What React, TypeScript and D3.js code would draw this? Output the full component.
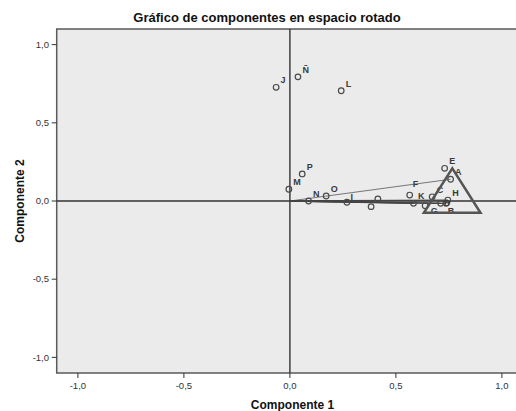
import React from "react";
import * as d3 from "d3";

// rotated component loadings (Componente 1, Componente 2)
const labels = ["J", "Ñ", "L", "M", "P", "N", "O", "I", "", "", "F", "K", "G", "C", "D", "B", "H", "E", "A"];
const comp1 = [-0.065, 0.038, 0.242, -0.005, 0.058, 0.088, 0.171, 0.269, 0.383, 0.415, 0.565, 0.583, 0.638, 0.671, 0.711, 0.737, 0.745, 0.73, 0.758];
const comp2 = [0.727, 0.794, 0.705, 0.075, 0.173, 0.0, 0.032, -0.008, -0.036, 0.013, 0.038, -0.015, -0.03, 0.027, -0.015, -0.015, 0.006, 0.209, 0.139];

// vectors drawn from the origin
const vectorsThin = ["A"];
const vectorsDark = ["K", "D", "B", "H"];

// triangle annotation (data coords)
const triX = [0.766, 0.632, 0.899];
const triY = [0.209, -0.075, -0.075];

const ticks = [-1, -0.5, 0, 0.5, 1];

// label offsets that differ from the default
const labelShift: Record<string, [number, number]> = {
  G: [5.5, 8.5],
  B: [1.5, 10.5],
  F: [3, -8.5],
  D: [3, 3],
  I: [3.5, -2.5],
};

const fmt = (v: number) => d3.format(".1f")(v).replace(".", ",").replace("−", "-");

export default function App() {
  const W = 516;
  const H = 411;
  const left = 56.7;
  const top = 29;
  const bottom = 373;
  const x = d3.scaleLinear().domain([-1.1, 1.1]).range([left, left + 2.2 * 212]);
  const y = d3.scaleLinear().domain([-1.1, 1.1]).range([bottom, top]);
  const right = x(1.1);

  const pts = labels.map((l, i) => ({ l, x: comp1[i], y: comp2[i] }));
  const find = (l: string) => pts.find((p) => p.l === l)!;
  const tri = d3.line<number>()((triX.map((v, i) => [x(v), y(triY[i])]) as any)) + "Z";

  return (
    <svg width={W} height={H} style={{ position: "absolute", left: 0, top: 0, fontFamily: "'Liberation Sans', Arial, sans-serif" }}>
      <rect width={W} height={H} fill="#fff" />
      <text x={267} y={22} textAnchor="middle" fontSize={13} fontWeight="bold" fill="#111">
        Gráfico de componentes en espacio rotado
      </text>
      <rect x={left} y={top} width={right - left} height={bottom - top} fill="#ebebeb" stroke="#5a5a5a" strokeWidth={1.5} />
      {/* reference axes */}
      <line x1={left} x2={right} y1={y(0)} y2={y(0)} stroke="#333" strokeWidth={1.4} />
      <line x1={x(0)} x2={x(0)} y1={top} y2={bottom} stroke="#333" strokeWidth={1.4} />
      {/* ticks */}
      {ticks.map((t) => (
        <g key={"x" + t}>
          <line x1={x(t)} x2={x(t)} y1={bottom} y2={bottom + 5} stroke="#333" strokeWidth={1} />
          <text x={x(t)} y={389} textAnchor="middle" fontSize={9.5} fill="#333">
            {fmt(t)}
          </text>
        </g>
      ))}
      {ticks.map((t) => (
        <g key={"y" + t}>
          <line x1={left - 5} x2={left} y1={y(t)} y2={y(t)} stroke="#333" strokeWidth={1} />
          <text x={49} y={y(t) + 3.3} textAnchor="end" fontSize={9.5} fill="#333">
            {fmt(t)}
          </text>
        </g>
      ))}
      <text x={292.5} y={409} textAnchor="middle" fontSize={12} fontWeight="bold" fill="#111">
        Componente 1
      </text>
      <text transform={`translate(24,${y(0)}) rotate(-90)`} textAnchor="middle" fontSize={12} fontWeight="bold" fill="#111">
        Componente 2
      </text>
      {/* vectors */}
      {vectorsThin.map((l) => {
        const p = find(l);
        return <line key={"vt" + l} x1={x(0)} y1={y(0)} x2={x(p.x)} y2={y(p.y)} stroke="#777" strokeWidth={1.1} />;
      })}
      {vectorsDark.map((l) => {
        const p = find(l);
        return <line key={"vd" + l} x1={x(0)} y1={y(0)} x2={x(p.x)} y2={y(p.y)} stroke="#444" strokeWidth={1.3} />;
      })}
      {/* points */}
      {pts.map((p, i) => (
        <circle key={"c" + i} cx={x(p.x)} cy={y(p.y)} r={2.8} fill="none" stroke="#4a4a4a" strokeWidth={1.2} />
      ))}
      {pts.map((p, i) => {
        const [dx, dy] = labelShift[p.l] || [4.5, -4];
        return (
          <text key={"t" + i} x={x(p.x) + dx} y={y(p.y) + dy} fontSize={9} fontWeight="bold" fill="#3a3a3a">
            {p.l}
          </text>
        );
      })}
      <path d={tri} fill="none" stroke="#555" strokeWidth={2.5} strokeLinejoin="miter" />
    </svg>
  );
}
